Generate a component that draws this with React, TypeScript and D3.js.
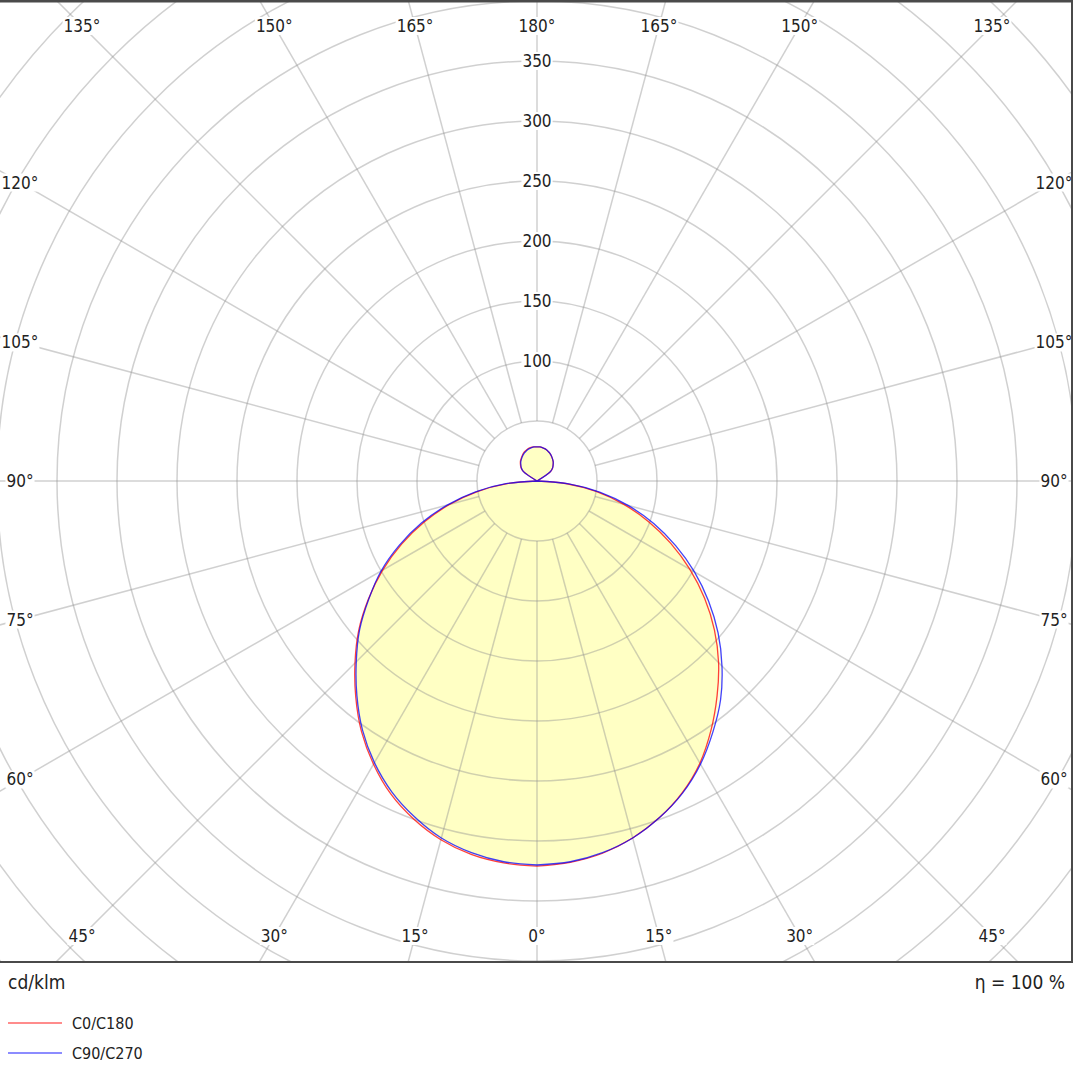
import { useRef, useEffect } from 'react';
import * as d3 from 'd3';

// gamma angles (deg) of the measured intensities
const gammaAngles = [
  0, 5, 10, 15, 20, 25, 30, 35, 40, 45, 50, 55, 60, 65, 70, 75, 80, 85, 90,
  95, 100, 105, 110, 115, 120, 125, 130, 135, 140, 145, 150, 155, 160, 165, 170, 175, 180,
];

// cd/klm, right half C0 / left half C180
const c0Values = [
  321, 319, 315, 308, 298.5, 286.5, 271.5, 253, 233.5, 214, 193, 170.5, 147, 123, 99, 74.5, 50, 24, 0,
  0, 0, 0, 0, 0, 0, 14, 17, 19, 21, 22.5, 24, 25.5, 26.5, 27.5, 28, 28.5, 28.5,
];
const c180Values = [
  321, 319.5, 316, 309.5, 300, 288, 272.5, 255, 235, 214.5, 194, 171.5, 148.5, 124.5, 100, 75.5, 50.5, 25, 0,
  0, 0, 0, 0, 0, 0, 14, 17.5, 19.5, 21.5, 23, 24.5, 26, 27, 28, 28.5, 28.5, 28.5,
];
// right half C90 / left half C270
const c90Values = [
  320, 318.5, 314.5, 308, 298.5, 287, 272.5, 255.5, 238, 218, 197, 174.5, 151.5, 127.5, 103.5, 78.5, 53, 26.5, 0,
  0, 0, 0, 0, 0, 0, 13.5, 17, 19, 21, 22.5, 24, 25.5, 26.5, 27.5, 28, 28.5, 28.5,
];
const c270Values = [
  320, 318.5, 314.5, 308, 298, 286, 271, 253.5, 233.5, 213, 193, 171, 150, 126.5, 102.5, 77.5, 52, 26, 0,
  0, 0, 0, 0, 0, 0, 14, 17, 19, 21, 22.5, 24, 25.5, 26.5, 27.5, 28, 28.5, 28.5,
];

const ringValues = [50, 100, 150, 200, 250, 300, 350, 400, 450, 500, 550, 600, 650];
const ringLabels = [100, 150, 200, 250, 300, 350];
const spokeAngles = [
  -165, -150, -135, -120, -105, -90, -75, -60, -45, -30, -15, 0,
  15, 30, 45, 60, 75, 90, 105, 120, 135, 150, 165, 180,
];
const seriesNames = ['C0/C180', 'C90/C270'];

const W = 1075;
const H = 1079;
const plot = { left: 0, top: 0, right: 1072, bottom: 962 };
const cx = 537;
const cy = 481;
const FONT = "'DejaVu Sans Condensed', 'DejaVu Sans', sans-serif";

export default function App() {
  const ref = useRef<SVGSVGElement>(null);

  useEffect(() => {
    if (!ref.current) return;
    const svg = d3.select(ref.current);
    svg.selectAll('*').remove();

    const r = d3.scaleLinear().domain([0, 50]).range([0, 60]);

    svg.append('defs')
      .append('clipPath')
      .attr('id', 'plotClip')
      .append('rect')
      .attr('x', plot.left)
      .attr('y', plot.top)
      .attr('width', plot.right - plot.left)
      .attr('height', plot.bottom - plot.top);

    svg.append('rect').attr('width', W).attr('height', H).attr('fill', '#fff');

    const g = svg.append('g').attr('clip-path', 'url(#plotClip)');
    const c = g.append('g').attr('transform', `translate(${cx},${cy})`);

    // closed outline: right half (first values) then left half (second values)
    const outline = (right: number[], left: number[]) => {
      const pts: [number, number][] = [];
      gammaAngles.forEach((gm, i) => pts.push([Math.PI - (gm * Math.PI) / 180, r(right[i])]));
      for (let i = gammaAngles.length - 1; i >= 0; i--) {
        pts.push([Math.PI + (gammaAngles[i] * Math.PI) / 180, r(left[i])]);
      }
      return d3.lineRadial<[number, number]>()
        .angle((d) => d[0])
        .radius((d) => d[1])
        .curve(d3.curveCatmullRomClosed.alpha(0.5))(pts);
    };

    const series = [
      { right: c0Values, left: c180Values, color: '#ff0000' },
      { right: c90Values, left: c270Values, color: '#0000ff' },
    ];

    // fill
    series.forEach((s) => {
      c.append('path')
        .attr('d', outline(s.right, s.left))
        .attr('fill', '#ffff00')
        .attr('fill-opacity', 0.12);
    });

    // grid rings
    c.selectAll('circle.ring')
      .data(ringValues)
      .enter()
      .append('circle')
      .attr('class', 'ring')
      .attr('r', (d) => r(d))
      .attr('fill', 'none')
      .attr('stroke', '#909090')
      .attr('stroke-opacity', 0.42)
      .attr('stroke-width', 1.5);

    // spokes
    c.selectAll('line.spoke')
      .data(spokeAngles)
      .enter()
      .append('line')
      .attr('class', 'spoke')
      .attr('x1', (d) => Math.sin((d * Math.PI) / 180) * r(50))
      .attr('y1', (d) => Math.cos((d * Math.PI) / 180) * r(50))
      .attr('x2', (d) => Math.sin((d * Math.PI) / 180) * 1000)
      .attr('y2', (d) => Math.cos((d * Math.PI) / 180) * 1000)
      .attr('stroke', '#909090')
      .attr('stroke-opacity', 0.42)
      .attr('stroke-width', 1.5);

    // curves
    series.forEach((s) => {
      c.append('path')
        .attr('d', outline(s.right, s.left))
        .attr('fill', 'none')
        .attr('stroke', s.color)
        .attr('stroke-opacity', 0.75)
        .attr('stroke-width', 1.3);
    });

    // labels with white boxes
    const labelLayer = svg.append('g');
    const addLabel = (x: number, y: number, text: string) => {
      const grp = labelLayer.append('g');
      const t = grp.append('text')
        .attr('x', x)
        .attr('y', y)
        .attr('text-anchor', 'middle')
        .attr('dominant-baseline', 'central')
        .attr('font-family', FONT)
        .attr('font-size', 17)
        .attr('fill', '#222')
        .text(text);
      const bb = (t.node() as SVGTextElement).getBBox();
      grp.insert('rect', 'text')
        .attr('x', bb.x - 1)
        .attr('y', bb.y + 1)
        .attr('width', bb.width + 2)
        .attr('height', bb.height - 2)
        .attr('fill', '#fff');
    };

    ringLabels.forEach((v) => addLabel(cx, cy - r(v), String(v)));

    const dxMax = 517;
    const dyMax = 455;
    spokeAngles.forEach((a) => {
      const s = Math.sin((a * Math.PI) / 180);
      const co = Math.cos((a * Math.PI) / 180);
      const t = Math.min(
        Math.abs(s) > 1e-9 ? dxMax / Math.abs(s) : Infinity,
        Math.abs(co) > 1e-9 ? dyMax / Math.abs(co) : Infinity
      );
      addLabel(cx - s * t, cy + co * t, `${Math.abs(a)}°`);
    });

    // frame
    const frame = svg.append('g').attr('stroke', '#4a4a4a').attr('stroke-width', 2);
    frame.append('line').attr('x1', 0).attr('x2', plot.right).attr('y1', 1).attr('y2', 1).attr('stroke-width', 3);
    frame.append('line').attr('x1', plot.right).attr('x2', plot.right).attr('y1', 0).attr('y2', plot.bottom);
    frame.append('line').attr('x1', 0).attr('x2', plot.right + 1).attr('y1', plot.bottom).attr('y2', plot.bottom);

    // unit and efficiency
    svg.append('text')
      .attr('x', 8)
      .attr('y', 989)
      .attr('font-family', FONT)
      .attr('font-size', 19)
      .attr('fill', '#222')
      .text('cd/klm');
    svg.append('text')
      .attr('x', 1065)
      .attr('y', 989)
      .attr('text-anchor', 'end')
      .attr('font-family', FONT)
      .attr('font-size', 19)
      .attr('fill', '#222')
      .text('η = 100 %');

    // legend
    const legendColors = ['#ff8c8c', '#8c8cff'];
    seriesNames.forEach((name, i) => {
      const y = 1023 + i * 30;
      svg.append('line')
        .attr('x1', 8)
        .attr('x2', 62)
        .attr('y1', y)
        .attr('y2', y)
        .attr('stroke', legendColors[i])
        .attr('stroke-width', 2);
      svg.append('text')
        .attr('x', 72)
        .attr('y', y + 6)
        .attr('font-family', FONT)
        .attr('font-size', 16)
        .attr('fill', '#222')
        .text(name);
    });
  }, []);

  return (
    <svg
      ref={ref}
      width={W}
      height={H}
      style={{ position: 'absolute', left: 0, top: 0, display: 'block' }}
    />
  );
}
